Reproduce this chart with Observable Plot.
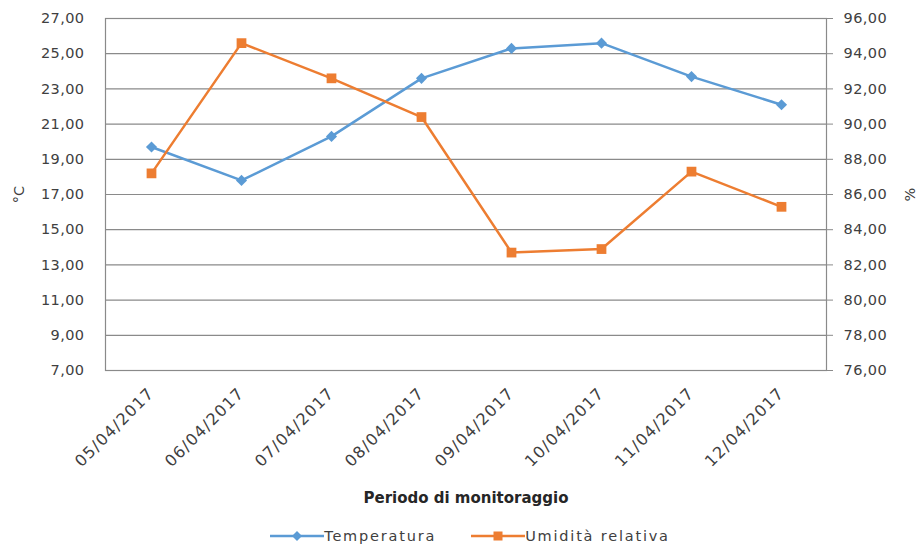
<!DOCTYPE html>
<html>
<head>
<meta charset="utf-8">
<script src="https://cdn.jsdelivr.net/npm/d3@7"></script>
<script src="https://cdn.jsdelivr.net/npm/@observablehq/plot@0.6"></script>
<style>
  html, body { margin: 0; padding: 0; background: #fff; }
  body { width: 924px; height: 546px; overflow: hidden; font-family: "DejaVu Sans", sans-serif; }
  #legend { position: absolute; top: 522px; left: 0; width: 924px; display: flex; justify-content: center; gap: 35px; font-size: 14.5px; letter-spacing: 1.8px; color: #404040; height: 28px; align-items: center; margin-left: 8px; }
  .item { display: flex; align-items: center; gap: 0px; }
  g[aria-label="x-axis tick label"] text { letter-spacing: 1.2px; }
  g[aria-label="y-axis tick label"] text { letter-spacing: 0.4px; }
</style>
</head>
<body>
<div id="chart"></div>
<div id="legend"></div>
<script>
const dates = ["05/04/2017","06/04/2017","07/04/2017","08/04/2017","09/04/2017","10/04/2017","11/04/2017","12/04/2017"];
const temperatura = [19.7, 17.8, 20.3, 23.6, 25.3, 25.6, 23.7, 22.1];
const umidita = [87.2, 94.6, 92.6, 90.4, 82.7, 82.9, 87.3, 85.3];
const tempTicks = [7, 9, 11, 13, 15, 17, 19, 21, 23, 25, 27];
const humTicks = [76, 78, 80, 82, 84, 86, 88, 90, 92, 94, 96];
const seriesNames = ["Temperatura", "Umidità relativa"];
const colors = ["#5B9BD5", "#ED7D31"];

const fmt = v => v.toFixed(2).replace(".", ",");
// map humidity onto the temperature axis
const hToT = d3.scaleLinear([humTicks[0], humTicks[humTicks.length - 1]], [tempTicks[0], tempTicks[tempTicks.length - 1]]);

const tempData = dates.map((d, i) => ({date: d, v: temperatura[i]}));
const humData = dates.map((d, i) => ({date: d, v: hToT(umidita[i])}));

const textColor = "#404040";
const gridColor = "#8a8a8a";

const chart = Plot.plot({
  width: 924,
  height: 518,
  marginTop: 18,
  marginBottom: 148,
  marginLeft: 105,
  marginRight: 98,
  style: {fontFamily: "DejaVu Sans, sans-serif", fontSize: "14.5px", color: textColor, background: "#fff"},
  x: {type: "point", domain: dates, padding: 0.5},
  y: {domain: [tempTicks[0], tempTicks[tempTicks.length - 1]]},
  marks: [
    Plot.gridY(tempTicks, {stroke: gridColor, strokeOpacity: 1, strokeWidth: 1.2}),
    Plot.frame({stroke: gridColor, strokeWidth: 1.2}),
    Plot.axisY(tempTicks, {anchor: "left", tickSize: 0, tickPadding: 21, tickFormat: fmt, label: "°C", labelArrow: "none", labelAnchor: "center", labelOffset: 92, fontSize: 14.5}),
    Plot.axisY(humTicks.map(h => hToT(h)), {anchor: "right", tickSize: 6, tickPadding: 11, stroke: gridColor, tickFormat: t => fmt(hToT.invert(t)), label: "%", labelArrow: "none", labelAnchor: "center", labelOffset: 88, fontSize: 14.5}),
    Plot.axisX({tickSize: 0, tickRotate: -45, tickPadding: 20, fontSize: 16, label: null}),
    Plot.text(["Periodo di monitoraggio"], {frameAnchor: "bottom", dy: 132, fontWeight: "bold", fontSize: 15, fill: "#262626"}),
    Plot.line(tempData, {x: "date", y: "v", stroke: colors[0], strokeWidth: 2.5}),
    Plot.line(humData, {x: "date", y: "v", stroke: colors[1], strokeWidth: 2.5}),
    Plot.dot(tempData, {x: "date", y: "v", symbol: "diamond2", fill: colors[0], r: 5}),
    Plot.dot(humData, {x: "date", y: "v", symbol: "square", fill: colors[1], r: 5.5})
  ]
});
document.getElementById("chart").append(chart);

const legend = document.getElementById("legend");
const syms = ["diamond", "square"];
seriesNames.forEach((name, i) => {
  const item = document.createElement("div");
  item.className = "item";
  const marker = syms[i] === "diamond"
    ? `<polygon points="27,1 32,6 27,11 22,6" fill="${colors[i]}"/>`
    : `<rect x="22.5" y="1.5" width="9" height="9" fill="${colors[i]}"/>`;
  item.innerHTML = `<svg width="54" height="12"><line x1="0" y1="6" x2="54" y2="6" stroke="${colors[i]}" stroke-width="2.5"/>${marker}</svg><span>${name}</span>`;
  legend.append(item);
});
</script>
</body>
</html>
